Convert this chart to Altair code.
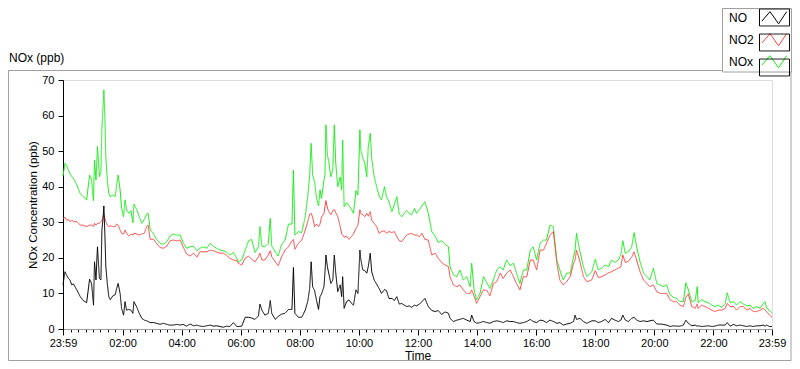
import altair as alt
import pandas as pd

# ---- data (minutes after 23:59, ppb) ----
TIME_MIN = [
    0, 4, 7, 11, 14, 18, 21, 28, 35, 41, 48, 54, 58, 62, 64, 67, 70, 74, 77, 79, 81, 83, 85, 87,
    90, 93, 96, 101, 106, 109, 112, 116, 119, 123, 126, 129, 134, 138, 142, 144, 150, 155, 160,
    165, 170, 173, 177, 184, 190, 197, 204, 211, 217, 224, 231, 238, 244, 251, 258, 265, 272,
    278, 285, 292, 299, 305, 312, 319, 326, 332, 339, 346, 353,
    356, 363, 370, 377, 383, 390, 397, 400, 404, 410, 417, 421, 424, 431, 437, 444, 451, 458,
    465, 468, 471, 478, 485, 492, 497, 501, 504, 507, 511, 515, 519, 522, 525, 530, 532, 534,
    537, 540, 544, 548, 551, 554, 558, 563, 566, 568, 571, 576, 581, 586, 590, 595, 599, 603,
    605, 609, 613, 617, 620, 624, 627, 632, 637, 642, 647, 653, 657, 662, 668, 673, 678, 683,
    688, 693, 698, 703, 708, 714,
    718, 724, 729, 735, 742, 749, 756, 762, 769, 776, 783, 786, 793, 800, 806, 813, 820, 827,
    830, 835, 840, 847, 854, 861, 867, 874, 881, 888, 894, 901, 908, 915, 921, 928, 935, 942,
    949, 955, 962, 969, 976, 982, 989, 996, 1003, 1009, 1016, 1023, 1030, 1037, 1040, 1043,
    1050, 1057, 1064,
    1074, 1081, 1087, 1094, 1101, 1108, 1114, 1121, 1128, 1133, 1137, 1142, 1148, 1155, 1160,
    1165, 1172, 1179, 1186, 1192, 1199, 1206, 1213, 1219, 1226, 1233, 1240, 1246, 1253, 1260,
    1265, 1270, 1277, 1284, 1288, 1290, 1297, 1304, 1311, 1318, 1324, 1331, 1338, 1345, 1349,
    1355, 1362, 1368, 1375, 1382, 1389, 1395, 1402, 1409, 1416, 1422, 1426, 1429, 1435, 1440,
]

NO = [
    12.5, 16.1, 15.2, 14.2, 13.8, 12.4, 12.7, 11.0, 9.1, 8.0, 7.4, 14.0, 12.8, 6.7, 18.9, 13.8,
    23.1, 14.2, 13.8, 27.8, 30.6, 34.6, 26.9, 17.5, 12.8, 9.1, 8.2, 9.3, 9.6, 11.4, 12.8, 10.0,
    5.8, 3.9, 7.7, 5.3, 5.5, 5.3, 4.4, 7.7, 6.1, 4.4, 3.0, 2.5, 2.3, 2.1, 1.8, 1.8, 1.6, 1.3,
    1.6, 1.3, 1.1, 1.1, 1.3, 1.1, 1.3, 0.8, 1.4, 0.9, 1.1, 0.8, 0.7, 0.9, 1.1, 0.8, 0.9, 0.7,
    0.5, 0.8, 0.7, 1.8, 0.7,
    0.7, 0.8, 3.3, 3.3, 3.1, 2.7, 3.7, 7.0, 5.3, 3.9, 4.4, 8.0, 4.4, 2.7, 3.5, 4.2, 4.4, 5.5,
    5.5, 17.3, 4.4, 3.3, 3.3, 5.3, 7.7, 11.4, 18.9, 11.9, 10.8, 8.0, 5.5, 9.1, 9.8, 11.9, 15.7,
    20.8, 17.5, 15.5, 12.8, 13.8, 20.8, 15.7, 10.5, 12.4, 9.1, 14.7, 5.8, 7.7, 8.2, 7.2, 6.7,
    11.0, 10.0, 22.2, 19.4, 16.6, 16.4, 15.7, 17.5, 21.3, 16.1, 13.8, 12.6, 11.4, 10.0, 11.1,
    10.8, 8.6, 8.6, 8.0, 9.1, 7.0, 7.2, 6.7, 6.3, 6.5, 6.1, 6.7,
    6.5, 7.0, 7.7, 8.6, 6.3, 5.2, 4.9, 5.2, 4.1, 4.8, 4.4, 3.0, 2.1, 2.5, 2.7, 3.0, 2.5, 2.1,
    3.9, 2.1, 1.6, 1.8, 2.1, 1.8, 1.6, 2.1, 2.3, 2.1, 1.8, 2.3, 2.1, 2.1, 1.8, 1.6, 1.8, 2.1,
    2.7, 2.1, 1.8, 2.5, 2.3, 1.8, 2.5, 2.1, 1.6, 1.8, 1.1, 1.4, 1.6, 2.1, 3.9, 2.7, 3.0, 2.1,
    1.6,
    2.3, 2.3, 1.8, 2.1, 2.7, 1.8, 3.0, 2.5, 2.1, 2.5, 3.9, 2.5, 2.1, 3.0, 3.3, 2.5, 2.1, 2.3,
    2.1, 2.3, 2.5, 1.4, 1.4, 1.3, 1.1, 0.7, 0.9, 0.8, 0.8, 1.1, 2.5, 1.6, 0.9, 1.1, 0.8, 0.9,
    0.7, 0.8, 0.9, 0.7, 0.8, 1.1, 1.1, 1.1, 1.8, 0.8, 1.3, 0.9, 1.1, 0.9, 0.7, 0.9, 0.7, 0.9,
    0.9, 1.1, 0.8, 1.1, 0.7, 0.7,
]

NO2 = [
    31.1, 31.4, 30.6, 30.8, 30.2, 30.6, 30.2, 30.2, 29.2, 29.2, 28.8, 29.2, 29.2, 28.8, 29.7,
    29.2, 29.7, 29.7, 30.2, 30.6, 31.1, 32.1, 31.1, 30.2, 29.2, 28.8, 29.0, 28.8, 28.8, 29.5,
    29.2, 27.8, 26.9, 26.7, 27.8, 26.9, 26.1, 26.7, 26.4, 26.9, 26.7, 26.4, 26.7, 26.9, 28.8,
    29.2, 25.2, 25.2, 24.1, 22.9, 22.7, 23.3, 24.8, 25.0, 24.8, 25.0, 23.1, 21.1, 20.5, 21.3,
    20.2, 21.7, 21.7, 21.7, 22.2, 22.0, 21.6, 21.3, 21.3, 20.7, 19.9, 19.4, 19.2,
    18.5, 18.0, 19.9, 20.5, 19.6, 18.9, 20.3, 21.3, 19.4, 19.4, 20.8, 22.0, 20.3, 18.9, 17.8,
    20.3, 22.2, 23.1, 24.8, 25.2, 22.4, 24.1, 25.0, 27.8, 30.2, 32.3, 32.5, 31.4, 28.8, 29.5,
    28.8, 29.5, 31.4, 32.5, 34.4, 36.1, 34.0, 33.0, 32.1, 33.3, 33.6, 32.7, 31.6, 28.8, 26.7,
    26.4, 25.8, 26.1, 25.2, 26.0, 26.7, 28.3, 29.2, 33.5, 32.5, 32.1, 31.6, 32.5, 31.7, 33.0,
    30.6, 29.7, 28.8, 26.9, 27.4, 27.6, 26.9, 27.4, 27.1, 27.4, 26.0, 24.8, 24.6, 25.5, 26.4,
    26.7, 26.9, 26.4,
    26.4, 26.0, 26.9, 25.2, 25.0, 20.8, 21.3, 19.9, 18.7, 18.0, 17.5, 14.7, 12.4, 11.9, 12.4,
    11.0, 10.0, 10.0, 11.0, 9.3, 7.2, 9.1, 11.0, 10.8, 9.3, 12.8, 13.3, 15.7, 14.2, 15.7, 16.6,
    14.7, 12.8, 11.0, 14.7, 14.7, 19.4, 19.4, 16.6, 22.2, 22.2, 24.1, 26.4, 27.4, 18.5, 13.8,
    12.4, 13.3, 14.7, 18.5, 19.4, 22.2, 18.9, 14.7, 13.3,
    13.8, 16.4, 14.5, 14.7, 15.2, 15.8, 16.1, 16.6, 17.1, 17.5, 20.8, 18.7, 19.0, 20.2, 21.7,
    19.4, 16.1, 13.8, 12.8, 11.9, 12.4, 10.5, 10.0, 10.0, 10.0, 8.2, 7.7, 7.7, 6.7, 6.3, 8.9,
    9.9, 6.3, 5.8, 7.0, 5.8, 6.7, 6.3, 5.8, 5.3, 4.9, 5.3, 5.3, 5.8, 7.2, 6.3, 6.3, 5.3, 6.3,
    6.3, 5.3, 5.8, 4.9, 4.9, 5.3, 5.8, 5.3, 4.9, 3.9, 3.3,
]

NOX = [
    43.0, 46.6, 46.1, 44.7, 43.8, 42.8, 42.4, 40.5, 38.1, 37.2, 36.3, 43.3, 41.9, 36.1, 47.5,
    41.9, 51.3, 42.8, 44.2, 56.4, 61.6, 67.2, 59.7, 48.5, 41.9, 38.1, 37.2, 37.7, 37.2, 40.5,
    43.3, 39.1, 33.9, 31.6, 36.3, 33.5, 32.5, 33.3, 29.9, 35.1, 33.5, 31.6, 29.7, 30.8, 32.3,
    32.5, 28.0, 26.7, 25.2, 24.1, 23.8, 24.6, 26.1, 26.7, 26.4, 26.4, 24.3, 22.7, 23.1, 23.3,
    22.0, 22.7, 23.1, 22.7, 24.1, 23.3, 22.7, 22.2, 22.0, 21.6, 20.8, 21.5, 19.9,
    18.9, 19.4, 22.2, 24.8, 25.2, 21.5, 23.1, 28.8, 23.3, 23.1, 24.1, 31.1, 23.3, 21.7, 20.5,
    23.8, 25.0, 29.5, 29.5, 44.7, 26.4, 27.4, 27.1, 31.6, 37.2, 43.3, 52.2, 43.3, 41.4, 36.7,
    34.6, 39.1, 36.7, 41.9, 43.3, 57.4, 48.9, 47.0, 42.8, 44.7, 57.4, 46.6, 40.0, 42.7, 39.1,
    53.1, 34.4, 35.5, 34.6, 33.6, 32.5, 38.9, 37.7, 56.0, 50.3, 48.0, 46.6, 42.8, 51.3, 55.0,
    48.0, 42.8, 40.0, 37.4, 36.3, 40.0, 37.2, 35.8, 33.0, 34.9, 37.2, 32.3, 31.6, 32.5, 33.3,
    32.5, 32.1, 33.9,
    32.5, 33.6, 34.6, 35.8, 32.5, 27.4, 26.1, 24.3, 24.8, 23.8, 23.1, 17.5, 15.2, 14.7, 16.6,
    13.8, 14.7, 11.9, 18.5, 11.0, 8.2, 10.0, 14.7, 13.0, 11.4, 13.8, 16.6, 17.5, 16.6, 19.4,
    17.8, 18.5, 15.7, 12.8, 16.6, 16.6, 22.2, 23.1, 19.4, 24.1, 25.0, 25.0, 29.2, 28.8, 19.4,
    16.6, 13.8, 15.7, 15.7, 20.3, 22.2, 26.9, 21.7, 17.5, 14.7,
    16.1, 19.6, 16.6, 17.1, 18.0, 17.5, 19.4, 18.7, 19.4, 20.8, 24.8, 21.3, 21.7, 23.1, 27.1,
    23.1, 18.9, 15.7, 14.7, 13.8, 17.1, 12.8, 12.4, 11.9, 12.4, 9.6, 8.9, 8.6, 7.7, 7.7, 13.0,
    11.1, 7.7, 8.0, 11.9, 7.4, 8.2, 7.7, 7.4, 6.7, 6.3, 6.7, 6.1, 7.2, 10.2, 7.4, 7.7, 6.7,
    7.7, 7.0, 6.5, 6.7, 5.8, 6.3, 5.8, 7.2, 7.7, 5.8, 5.3, 4.4,
]

SERIES = ["NO", "NO2", "NOx"]
COLORS = ["#000000", "#ff4343", "#14ee14"]
DRAW_ORDER = ["NOx", "NO2", "NO"]
CHART_TITLE = "NOx (ppb)"

MAJOR_TICKS = [0, 121, 241, 361, 481, 601, 721, 841, 961, 1081, 1201, 1321, 1440]
MAJOR_LABELS = ["23:59", "02:00", "04:00", "06:00", "08:00", "10:00", "12:00",
                "14:00", "16:00", "18:00", "20:00", "22:00", "23:59"]
MINOR_TICKS = [1 + 15 * k for k in range(1, 96)]
ALL_TICKS = sorted(set(MAJOR_TICKS + MINOR_TICKS))
Y_TICKS = [0, 10, 20, 30, 40, 50, 60, 70]

FONT = "Liberation Sans"

df = pd.DataFrame({"t": TIME_MIN, "NO": NO, "NO2": NO2, "NOx": NOX})

major_js = "[" + ",".join(str(v) for v in MAJOR_TICKS) + "]"
labels_js = "[" + ",".join("'" + s + "'" for s in MAJOR_LABELS) + "]"
label_expr = f"indexof({major_js}, datum.value) >= 0 ? {labels_js}[indexof({major_js}, datum.value)] : ''"
major_test = f"indexof({major_js}, datum.value) >= 0"

x_axis = alt.Axis(
    values=ALL_TICKS, labelExpr=label_expr, labelFlush=False, labelOverlap=False,
    labelBound=False, labelFont=FONT, labelFontSize=11, labelColor="#000", labelPadding=2,
    tickColor="#000", tickSize={"condition": {"test": major_test, "value": 6}, "value": 3},
    domainColor="#9a9a9a", grid=False, title="Time", titleFont=FONT, titleFontSize=12,
    titleFontWeight="normal", titleColor="#000", titleY=30, titleBaseline="alphabetic",
)
y_axis = alt.Axis(
    values=Y_TICKS, labelFont=FONT, labelFontSize=11, labelColor="#000", labelPadding=4,
    tickColor="#000", tickSize=5, domainColor="#000", grid=False,
    title="NOx Concentration (ppb)", titleFont=FONT, titleFontSize=11.5,
    titleFontWeight="normal", titleColor="#000", titleX=-27, titleY=124.5,
    titleBaseline="alphabetic", titleAngle=270,
)

ZIG = "M-1.4,0.4L-0.5,-0.65L0.45,0.7L1.35,-0.65"
FRAME = "M-1.67,-0.94H1.67V0.94H-1.67Z"
LX, LY = 701, -73
common_legend = dict(
    title=None, orient="none", legendX=LX, legendY=LY, direction="vertical",
    symbolSize=324, symbolStrokeWidth=1, labelFont=FONT, labelFontSize=12,
    labelAlign="left", labelOffset={"expr": "-55"}, rowPadding=4, padding=1,
)
color_legend = alt.Legend(symbolType=ZIG, labelColor="#000", **common_legend)
frame_legend = alt.Legend(symbolType=FRAME, labelExpr="''",
                          symbolStrokeColor="#000", symbolFillColor="transparent",
                          **common_legend)

base = alt.Chart(df).transform_fold(["NO", "NO2", "NOx"], as_=["series", "value"]) \
    .transform_calculate(frame="datum.series")

layers = []
# decorative outer panel border and legend box
frame_rect = alt.Chart(alt.Data(values=[{"k": 0}])).mark_rect(
    fillOpacity=0, stroke="#a0a0a0", strokeWidth=1
).encode(x=alt.value(-54.5), x2=alt.value(728), y=alt.value(-9.5), y2=alt.value(280.5))
legend_box = alt.Chart(alt.Data(values=[{"k": 0}])).mark_rect(
    fill="#ffffff", stroke="#a0a0a0", strokeWidth=1
).encode(x=alt.value(659.5), x2=alt.value(728.5), y=alt.value(-71.5), y2=alt.value(-8))
layers += [frame_rect, legend_box]

title_text = alt.Chart(alt.Data(values=[{"label": CHART_TITLE}])).mark_text(
    align="left", baseline="alphabetic", font=FONT, fontSize=12, color="#000"
).encode(x=alt.value(-54), y=alt.value(-18), text="label:N")
layers.append(title_text)

for s in DRAW_ORDER:
    layers.append(
        base.transform_filter(alt.datum.series == s).mark_line(strokeWidth=1).encode(
            x=alt.X("t:Q", scale=alt.Scale(domain=[0, 1440], nice=False, zero=False), axis=x_axis),
            y=alt.Y("value:Q", scale=alt.Scale(domain=[0, 70], nice=False), axis=y_axis),
            color=alt.Color("series:N", scale=alt.Scale(domain=SERIES, range=COLORS),
                            legend=color_legend),
            strokeDash=alt.StrokeDash("frame:N", scale=alt.Scale(range=[[1, 0]]),
                                      legend=frame_legend),
        )
    )

chart = alt.layer(*layers).properties(
    width=709, height=249,
    autosize=alt.AutoSizeParams(type="none"),
    padding={"left": 55, "top": 72, "right": 20, "bottom": 32},
).configure_view(stroke="#000", strokeWidth=1).configure(background="#ffffff")

chart.save("out.html", embed_options={"renderer": "svg", "actions": False})
